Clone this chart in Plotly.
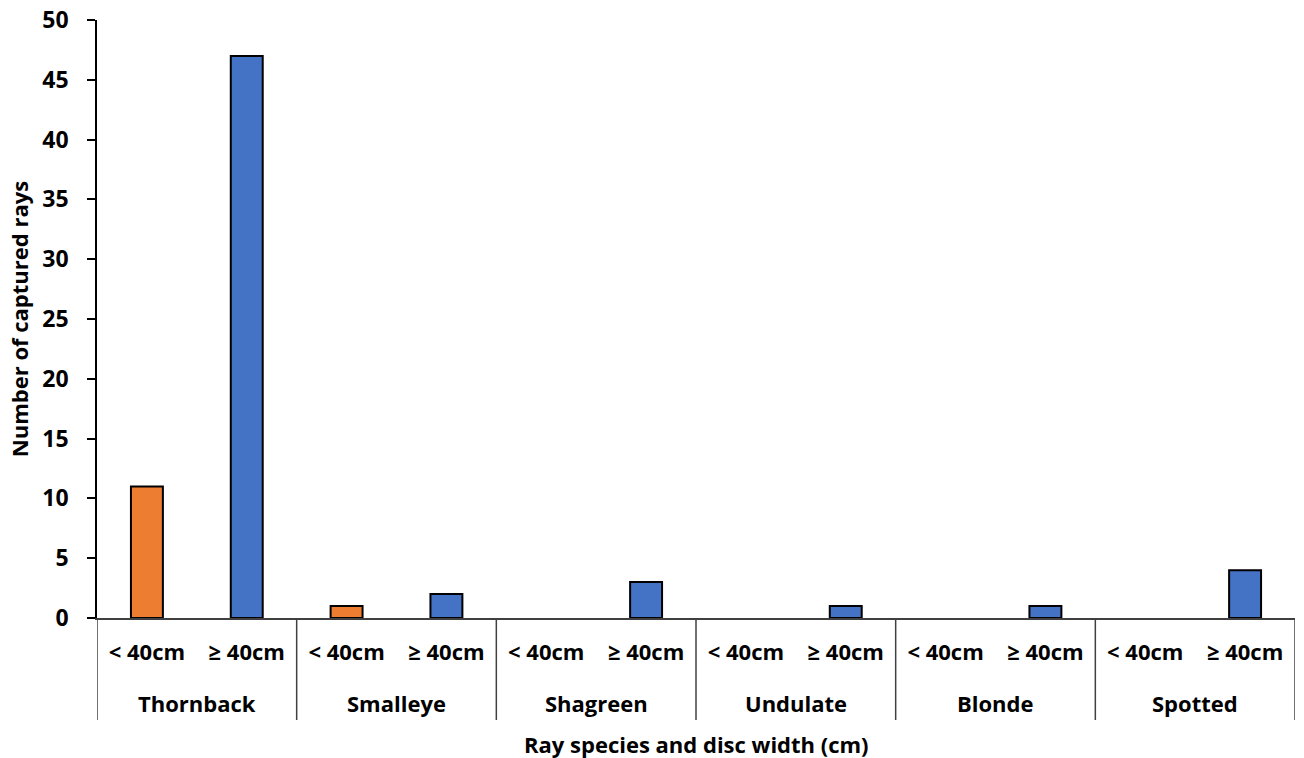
import plotly.graph_objects as go

species = ["Thornback", "Smalleye", "Shagreen", "Undulate", "Blonde", "Spotted"]
sizes = ["< 40cm", "≥ 40cm"]
small_counts = [11, 1, 0, 0, 0, 0]
large_counts = [47, 2, 3, 1, 1, 4]
y_ticks = [0, 5, 10, 15, 20, 25, 30, 35, 40, 45, 50]

FONT = "Open Sans"
ORANGE = "#ED7D31"
BLUE = "#4472C4"
FS = 22

n_sizes = len(sizes)
pos_small = [i * n_sizes for i in range(len(species))]
pos_large = [i * n_sizes + 1 for i in range(len(species))]
all_pos = sorted(pos_small + pos_large)
all_text = [sizes[p % n_sizes] for p in all_pos]

fig = go.Figure()
for pos, vals, col in [(pos_small, small_counts, ORANGE), (pos_large, large_counts, BLUE)]:
    fig.add_trace(go.Bar(
        x=pos, y=vals, width=0.32,
        marker=dict(color=col, line=dict(color="black", width=[2 if v > 0 else 0 for v in vals])),
        showlegend=False,
    ))

PLOT_H = 758 - 20 - 140


def py(px):
    # convert a pixel offset below the x axis line into paper units
    return -px / PLOT_H


shapes = []
for g in range(len(species) + 1):
    shapes.append(dict(type="line", xref="x", yref="paper",
                       x0=g * n_sizes - 0.5, x1=g * n_sizes - 0.5,
                       y0=0, y1=py(102), line=dict(color="#404040", width=1.5)))

annotations = []
for g, s in enumerate(species):
    annotations.append(dict(text=f"<b>{s}</b>", xref="x", yref="paper",
                            x=g * n_sizes + (n_sizes - 1) / 2, y=py(85),
                            showarrow=False, yanchor="middle",
                            font=dict(family=FONT, size=FS, color="black")))
annotations.append(dict(text="<b>Ray species and disc width (cm)</b>", xref="paper", yref="paper",
                        x=0.5, y=py(126), showarrow=False, yanchor="middle",
                        font=dict(family=FONT, size=FS, color="black")))

fig.update_layout(
    width=1304, height=758,
    margin=dict(l=97, r=9, t=20, b=140, autoexpand=False),
    plot_bgcolor="white", paper_bgcolor="white",
    font=dict(family=FONT, size=FS, color="black"),
    barmode="overlay",
    shapes=shapes, annotations=annotations,
)
fig.update_xaxes(
    range=[-0.5, len(species) * n_sizes - 0.5],
    tickvals=all_pos, ticktext=[f"<b>{t}</b>" for t in all_text],
    showline=True, linecolor="#404040", linewidth=1.5,
    ticks="", showgrid=False, zeroline=False, automargin=False,
    ticklabelstandoff=14,
    tickfont=dict(family=FONT, size=FS, color="black"),
)
fig.update_yaxes(
    range=[0, 50], tickvals=y_ticks,
    showline=True, linecolor="black", linewidth=1.5,
    ticks="outside", ticklen=8, tickcolor="black", tickwidth=1.5,
    showgrid=False, zeroline=False, automargin=False,
    ticklabelstandoff=14,
    tickfont=dict(family=FONT, size=23, color="black", weight="bold"),
    title=dict(text="<b>Number of captured rays</b>", font=dict(family=FONT, size=FS), standoff=8),
)
fig.write_html("out.html", config={"displayModeBar": False},
               post_script="document.body.style.margin='0px';")
